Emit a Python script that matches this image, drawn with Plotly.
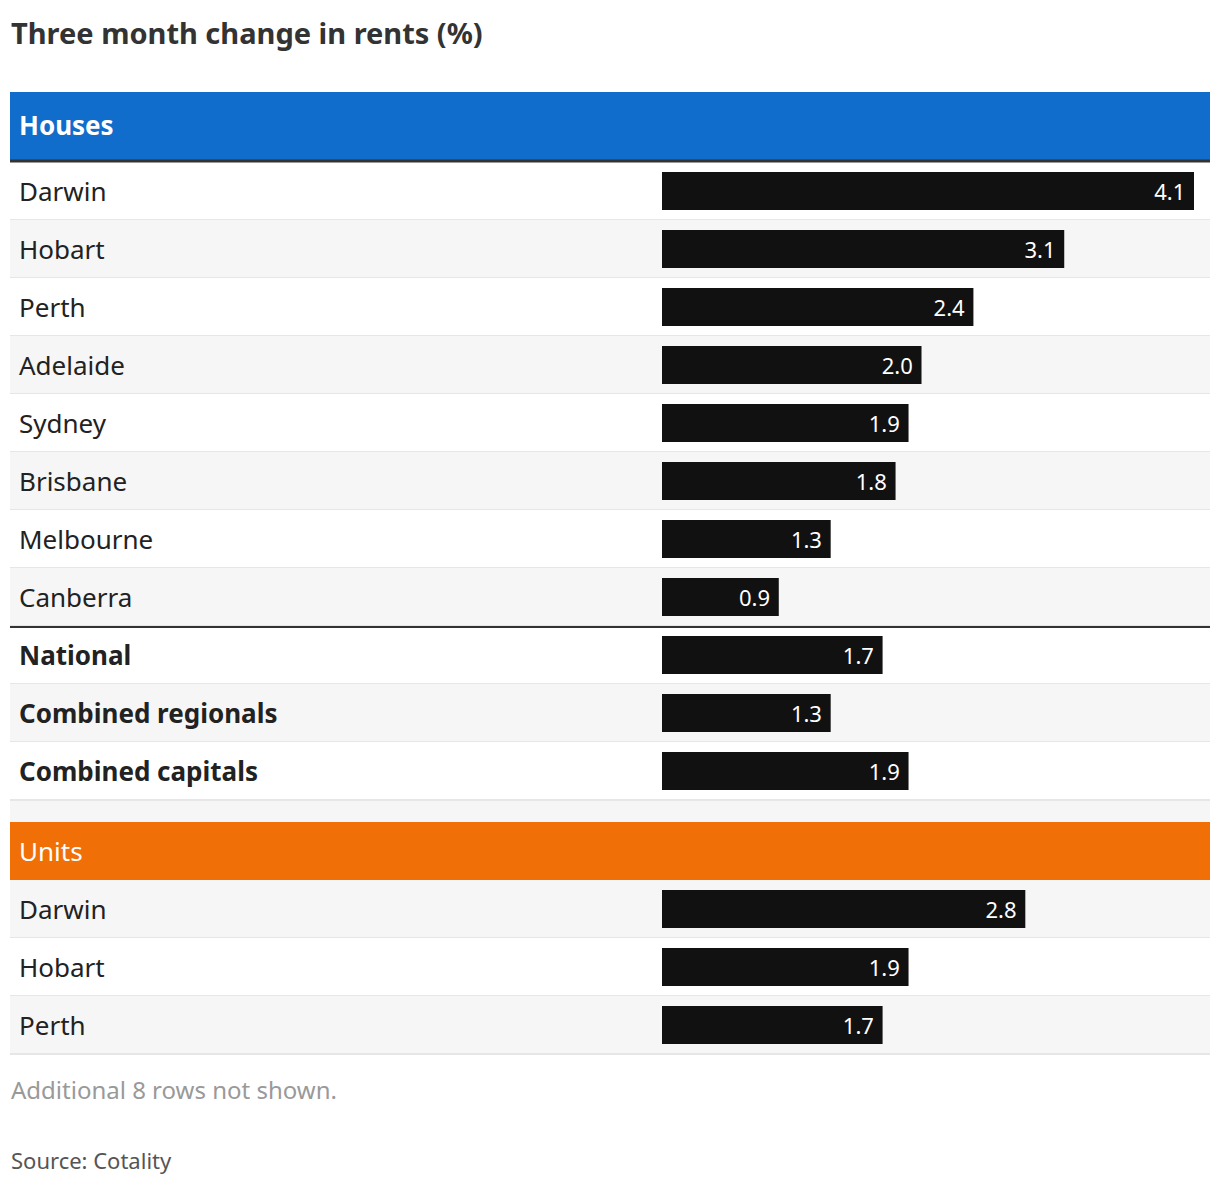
import plotly.graph_objects as go

house_labels = ["Darwin","Hobart","Perth","Adelaide","Sydney","Brisbane","Melbourne","Canberra",
                "National","Combined regionals","Combined capitals"]
house_values = [4.1,3.1,2.4,2.0,1.9,1.8,1.3,0.9,1.7,1.3,1.9]
unit_labels = ["Darwin","Hobart","Perth"]
unit_values = [2.8,1.9,1.7]
bold_labels = {"National","Combined regionals","Combined capitals"}

OFF = 8
W, H = 1220, 1186
FW, FH = W - OFF, H - OFF
X0, PXU = 662, 532/4.1
ROW = 58
H_TOP, U_TOP = 162, 880
FONT = "Noto Sans"

def px(p):
    return (p - OFF) / FW

shapes, ann = [], []
ys, vals = [], []

def row_bg(top, color):
    shapes.append(dict(type="rect", xref="paper", yref="y", x0=px(10), x1=px(1210), y0=top, y1=top+ROW,
                       fillcolor=color, line_width=0, layer="below"))
    shapes.append(dict(type="line", xref="paper", yref="y", x0=px(10), x1=px(1210), y0=top+ROW, y1=top+ROW,
                       line=dict(color="#e6e6e6", width=2), layer="below"))

def label(top, text, bold=False, color="#222", size=26):
    ann.append(dict(xref="paper", yref="y", x=px(17), y=top+ROW/2, text=f"<b>{text}</b>" if bold else text,
                    showarrow=False, xanchor="left", yanchor="middle",
                    font=dict(family=FONT, size=size, color=color)))

for i, (l, v) in enumerate(zip(house_labels, house_values)):
    top = H_TOP + ROW*i
    row_bg(top, "#ffffff" if i % 2 == 0 else "#f6f6f6")
    label(top, l, l in bold_labels)
    ys.append(top + ROW/2); vals.append(v)
shapes.append(dict(type="rect", xref="paper", yref="y", x0=px(10), x1=px(1210), y0=H_TOP+ROW*11+1, y1=822,
                   fillcolor="#f6f6f6", line_width=0, layer="below"))
for j, (l, v) in enumerate(zip(unit_labels, unit_values)):
    top = U_TOP + ROW*j
    row_bg(top, "#f6f6f6" if j % 2 == 0 else "#ffffff")
    label(top, l)
    ys.append(top + ROW/2); vals.append(v)

shapes.append(dict(type="rect", xref="paper", yref="y", x0=px(10), x1=px(1210), y0=92, y1=160,
                   fillcolor="#116dcc", line_width=0, layer="below"))
shapes.append(dict(type="line", xref="paper", yref="y", x0=px(10), x1=px(1210), y0=161, y1=161,
                   line=dict(color="#333", width=3)))
ann.append(dict(xref="paper", yref="y", x=px(17), y=125, text="<b>Houses</b>", showarrow=False,
                xanchor="left", yanchor="middle", font=dict(family=FONT, size=26, color="white")))
shapes.append(dict(type="rect", xref="paper", yref="y", x0=px(10), x1=px(1210), y0=822, y1=880,
                   fillcolor="#f07007", line_width=0, layer="below"))
ann.append(dict(xref="paper", yref="y", x=px(17), y=851, text="Units", showarrow=False,
                xanchor="left", yanchor="middle", font=dict(family=FONT, size=26, color="white")))
shapes.append(dict(type="line", xref="paper", yref="y", x0=px(10), x1=px(1210), y0=627, y1=627,
                   line=dict(color="#333", width=2)))

ann.append(dict(xref="paper", yref="y", x=px(9), y=32, text="<b>Three month change in rents (%)</b>",
                showarrow=False, xanchor="left", yanchor="middle", font=dict(family=FONT, size=29, color="#333")))
ann.append(dict(xref="paper", yref="y", x=px(9), y=1089, text="Additional 8 rows not shown.",
                showarrow=False, xanchor="left", yanchor="middle", font=dict(family=FONT, size=24, color="#999")))
ann.append(dict(xref="paper", yref="y", x=px(9), y=1160, text="Source: Cotality",
                showarrow=False, xanchor="left", yanchor="middle", font=dict(family=FONT, size=22, color="#555")))

fig = go.Figure(go.Bar(
    x=vals, y=ys, orientation="h", width=38, marker=dict(color="#111111", line_width=0),
    text=[f"{v:.1f}\u00a0" for v in vals], textposition="inside", insidetextanchor="end",
    textfont=dict(family=FONT, size=22, color="white"), cliponaxis=False, hoverinfo="skip"))

fig.update_layout(
    width=FW, height=FH, margin=dict(l=0, r=0, t=0, b=0), paper_bgcolor="white", plot_bgcolor="rgba(0,0,0,0)",
    xaxis=dict(range=[-(X0-OFF)/PXU, (W-X0)/PXU], visible=False, fixedrange=True),
    yaxis=dict(range=[H, OFF], visible=False, fixedrange=True),
    shapes=shapes, annotations=ann, showlegend=False, uniformtext=dict(minsize=22, mode="show"))
fig.write_html("out.html", config={"displayModeBar": False})
